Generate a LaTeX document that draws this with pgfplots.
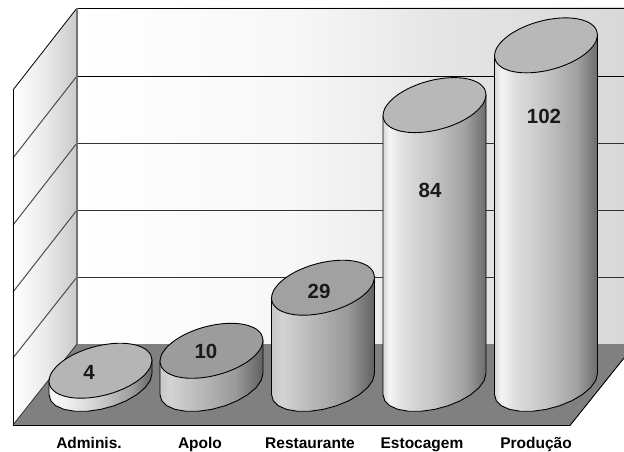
\documentclass[border=0pt]{standalone}
\usepackage{fontspec}
\setmainfont{Liberation Sans}
\usepackage{pgfplots}
\usepackage{pgfplotstable}
\pgfplotsset{compat=1.18}

% Wall and cylinder gradients: the path's bounding box maps onto 25bp..75bp
\pgfdeclarehorizontalshading{backwall}{100bp}{
  color(0bp)=(white); color(25bp)=(white); color(45bp)=(white!97!black);
  color(58bp)=(white!90!black); color(75bp)=(white!85!black); color(100bp)=(white!85!black)}
\pgfdeclarehorizontalshading{sidewall}{100bp}{
  color(0bp)=(white); color(25bp)=(white); color(50bp)=(white!92!black);
  color(75bp)=(white!79!black); color(100bp)=(white!79!black)}
\pgfdeclarehorizontalshading{cylA}{100bp}{
  color(0bp)=(white!92!black); color(25bp)=(white!92!black); color(28bp)=(white!98!black);
  color(45bp)=(white!85!black); color(65bp)=(white!62!black); color(75bp)=(white!40!black); color(100bp)=(white!40!black)}
\pgfdeclarehorizontalshading{cylB}{100bp}{
  color(0bp)=(white!78!black); color(25bp)=(white!78!black); color(30bp)=(white!83!black);
  color(45bp)=(white!72!black); color(62bp)=(white!60!black); color(75bp)=(white!38!black); color(100bp)=(white!38!black)}
\pgfdeclarehorizontalshading{cylC}{100bp}{
  color(0bp)=(white!84!black); color(25bp)=(white!84!black); color(28bp)=(white!96!black);
  color(35bp)=(white!87!black); color(50bp)=(white!77!black); color(65bp)=(white!63!black);
  color(75bp)=(white!42!black); color(100bp)=(white!42!black)}

% Horizontal and vertical offsets (in px) of a cylinder's elliptical rim
\pgfplotstableread{
u w
51.5 10.48
49.75 16.70
44.60 21.79
36.42 25.39
25.75 27.26
13.33 27.27
0 25.42
-13.33 21.85
-25.75 16.78
-36.42 10.57
-44.60 3.64
-49.75 -3.54
-51.5 -10.48
-49.75 -16.70
-44.60 -21.79
-36.42 -25.39
-25.75 -27.26
-13.33 -27.27
0 -25.42
13.33 -21.85
25.75 -16.78
36.42 -10.57
44.60 -3.64
49.75 3.54
51.5 10.48
}\rim

% Outline of a cylinder's side: front half of the base (h=0), then up to the lid (h=1)
\pgfplotstableread{
u w h
-51.5 -10.48 0
-49.75 -16.70 0
-44.60 -21.79 0
-36.42 -25.39 0
-25.75 -27.26 0
-13.33 -27.27 0
0 -25.42 0
13.33 -21.85 0
25.75 -16.78 0
36.42 -10.57 0
44.60 -3.64 0
49.75 3.54 0
51.5 10.48 0
51.5 10.48 1
-51.5 -10.48 1
}\side

% centre x, value, side shading, lid grey, label x, label y
\newcommand{\cylinder}[6]{%
  \addplot[shading=#3, draw=black, line width=0.9pt, line join=round]
    table[x expr=#1+\thisrow{u}, y expr=#2*\thisrow{h}+\thisrow{w}/3.32] {\side} -- cycle;
  \addplot[fill=#4, draw=black, line width=0.9pt, smooth, tension=0.5]
    table[x expr=#1+\thisrow{u}, y expr=#2+\thisrow{w}/3.32] {\rim} -- cycle;
  \node[font=\fontsize{20.5}{22}\selectfont\bfseries, text=black!90] at (axis cs:#5,#6) {#2};
}

\newcommand{\categoryfont}{\fontsize{15.5}{17}\selectfont\bfseries}

\begin{document}
\begin{tikzpicture}
\useasboundingbox (0,0) rectangle (624pt,452pt);
% Back wall, side wall, floor and grid lines, in pixel-like units
\begin{axis}[
  scale only axis, width=624pt, height=452pt, hide axis,
  xmin=0, xmax=624, ymin=0, ymax=452, y dir=reverse, no markers]
  \addplot[shading=backwall, draw=none] coordinates {(77,8) (624,8) (624,344) (77,344)} -- cycle;
  \addplot[shading=sidewall, draw=none] coordinates {(13,90) (77,8) (77,344) (13,425)} -- cycle;
  \addplot[fill=black!50, draw=none] coordinates {(13,425) (77,344) (624,344) (624,358) (570,425)} -- cycle;
  % grid on the back wall
  \addplot[black, line width=0.9pt] coordinates {(77,8) (624,8)};
  \addplot[black, line width=0.9pt] coordinates {(77,76) (624,76)};
  \addplot[black!80, line width=0.9pt] coordinates {(77,143) (624,143)};
  \addplot[black!80, line width=0.9pt] coordinates {(77,210) (624,210)};
  \addplot[black!80, line width=0.9pt] coordinates {(77,277) (624,277)};
  % grid on the side wall
  \addplot[black, line width=0.8pt] coordinates {(13,90) (77,8)};
  \addplot[black!70, line width=1pt] coordinates {(13,158) (77,76)};
  \addplot[black!70, line width=1pt] coordinates {(13,225) (77,143)};
  \addplot[black!70, line width=1pt] coordinates {(13,292) (77,210)};
  \addplot[black!70, line width=1pt] coordinates {(13,358) (77,277)};
  % edges
  \addplot[black!55, line width=1.1pt] coordinates {(77,8) (77,344)};
  \addplot[black, line width=0.9pt] coordinates {(13,90) (13,425)};
  \addplot[black!80, line width=0.8pt] coordinates {(13,425) (77,344)};
  \addplot[black, line width=1.4pt] coordinates {(13,425.5) (570,425.5)};
  \addplot[black, line width=0.9pt] coordinates {(570,425.5) (624,358)};
  % category names
  \node[font=\categoryfont, anchor=base] at (axis cs:89,448) {Adminis.};
  \node[font=\categoryfont, anchor=base] at (axis cs:200,448) {Apolo};
  \node[font=\categoryfont, anchor=base] at (axis cs:310,448) {Restaurante};
  \node[font=\categoryfont, anchor=base] at (axis cs:422,448) {Estocagem};
  \node[font=\categoryfont, anchor=base] at (axis cs:536,448) {Produção};
\end{axis}
% Cylinders: the vertical axis is in data units, with 0 on the middle of the floor
\begin{axis}[
  scale only axis, width=624pt, height=452pt, hide axis,
  xmin=0, xmax=624, ymin=-20.4819, ymax=115.6627, no markers]
  \cylinder{100.5}{4}{cylA}{white!71!black}{89}{3.6}
  \cylinder{211.5}{10}{cylB}{white!61!black}{206}{9.9}
  \cylinder{323}{29}{cylB}{white!63!black}{319}{28}
  \cylinder{434.5}{84}{cylC}{white!72!black}{430}{58.4}
  \cylinder{546}{102}{cylC}{white!72!black}{544}{80.7}
\end{axis}
\end{tikzpicture}
\end{document}
